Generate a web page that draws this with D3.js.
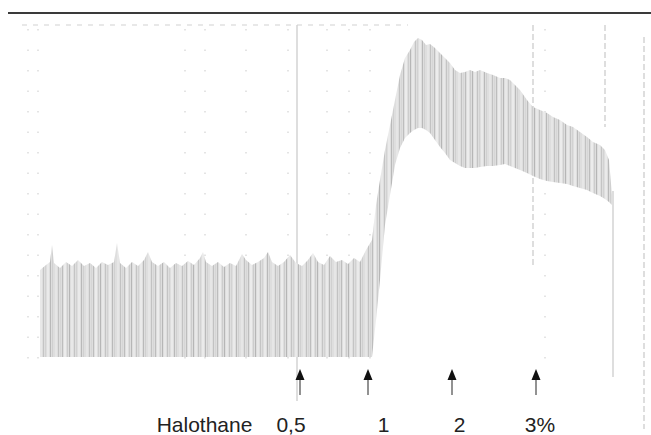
<!DOCTYPE html>
<html>
<head>
<meta charset="utf-8">
<script src="https://cdn.jsdelivr.net/npm/d3@7"></script>
<style>
  html, body { margin: 0; padding: 0; background: #fff; }
  svg { display: block; }
</style>
</head>
<body>
<svg id="chart" width="651" height="435"></svg>
<script>
// recording time (s) and pressure envelope (arbitrary units)
const time = [0, 3, 5, 6, 7, 10, 13, 16, 19, 22, 25, 28, 31, 34, 37, 38.5, 40, 43, 46, 49,
  52, 54, 56, 59, 62, 65, 68, 71, 74, 77, 80, 81.5, 83, 86, 89, 92, 95, 98, 101, 103,
  106, 109, 112, 114, 116, 119, 122, 125, 128, 131, 134, 136.5, 139, 142, 145, 148, 151, 154, 157, 160,
  163, 166, 168, 170, 172.5, 175, 177.5, 180, 182.5, 185, 187, 189, 191, 193, 195, 197.5, 200, 202.5, 205, 207.5,
  210, 212.5, 215, 217.5, 220, 223.5, 226.5, 230, 232.5, 235, 237.5, 240, 243.5, 246.5, 250, 253.5, 256.5, 260, 263.5, 266.5,
  270, 273.5, 276.5, 280, 282.5, 284.5, 286];

const high = [43.5, 46, 47.5, 56, 47, 44.5, 47.5, 45.5, 48.5, 45.5, 47, 44.5, 47.5, 46, 47.5, 57, 47, 44.5, 47.5, 45.5,
  48.5, 52.5, 47.5, 45.5, 47.5, 44.5, 47, 45.5, 48, 46, 49.5, 52.5, 47.5, 45.5, 47.5, 45, 47, 45.5, 51.5, 48.5,
  46, 47.5, 49.5, 52.5, 47.5, 45.5, 47.5, 51, 47, 45.5, 48.5, 52, 47.5, 46, 50.5, 47.5, 48.5, 46.5, 49.5, 47.5,
  53.5, 58.5, 76, 88.5, 103.5, 116, 128.5, 141, 149.5, 153.5, 157.5, 159.5, 158.5, 156, 156.5, 154.5, 152, 149.5, 147, 143.5,
  142, 142.5, 143.5, 142.5, 143.5, 142, 141, 139.5, 139.5, 138.5, 136, 133.5, 128.5, 125, 123.5, 122, 120, 118.5, 116, 115,
  112.5, 110, 107.5, 106, 103.5, 98.5, 81];

const low = [0, 0, 0, 0, 0, 0, 0, 0, 0, 0, 0, 0, 0, 0, 0, 0, 0, 0, 0, 0,
  0, 0, 0, 0, 0, 0, 0, 0, 0, 0, 0, 0, 0, 0, 0, 0, 0, 0, 0, 0,
  0, 0, 0, 0, 0, 0, 0, 0, 0, 0, 0, 0, 0, 0, 0, 0, 0, 0, 0, 0,
  0, 0, 18.5, 38.5, 66, 81, 96, 104.5, 109.5, 112, 113.5, 114.5, 114.5, 113.5, 112, 108.5, 105, 102, 98.5, 97,
  95.5, 94.5, 94.5, 94.5, 95, 95.5, 95.5, 96, 96.5, 95.5, 94.5, 93.5, 92, 90.5, 89, 88, 87.5, 87, 86.5, 85.5,
  84.5, 83.5, 82, 80.5, 79, 77.5, 76];

// halothane steps
const arrowTimes = [130, 164, 206, 248];
const doseLabels = ['0,5', '1', '2', '3%'];
const doseLabelTimes = [125.5, 171.75, 209.75, 250];
const drugName = 'Halothane';
const drugNameTime = 82.25;

// faint paper grid
const gridTimes = [128.5, 246.5, 282.5, 286.5, 302];
const gridTop = [166, 166, 166, 83, 160];
const gridBottom = [-22, 45, 115, -10, -36];
const dotTimes = [-6, -1, 72.5, 82.5, 103, 124, 143.5, 154.5, 165, 252.5];
const frameTop = 172;
const dashRow = 166;

const width = 651, height = 435;
const x = d3.scaleLinear().domain([0, 286]).range([40, 612]);
const y = d3.scaleLinear().domain([0, 160]).range([357, 37]);

const svg = d3.select('#chart');

// striped fill imitating the individual pulse traces
const pat = svg.append('defs').append('pattern')
  .attr('id', 'beats')
  .attr('patternUnits', 'userSpaceOnUse')
  .attr('width', 31).attr('height', 400);
pat.append('rect').attr('width', 31).attr('height', 400).attr('fill', '#dedede');
[[0, 1, '#bdbdbd'], [2, 2, '#ececec'], [5, 1, '#cdcdcd'], [7, 1, '#b6b6b6'], [9, 2, '#e8e8e8'],
 [12, 1, '#c4c4c4'], [14, 1, '#d2d2d2'], [16, 2, '#eaeaea'], [19, 1, '#b9b9b9'], [21, 1, '#d0d0d0'],
 [24, 2, '#e6e6e6'], [27, 1, '#c2c2c2'], [29, 1, '#d6d6d6']].forEach(s => {
  pat.append('rect').attr('x', s[0]).attr('width', s[1]).attr('height', 400).attr('fill', s[2]);
});

// grid
svg.append('line')
  .attr('x1', 8).attr('x2', width)
  .attr('y1', y(frameTop)).attr('y2', y(frameTop))
  .attr('stroke', '#3a3a3a').attr('stroke-width', 2);

svg.append('line')
  .attr('x1', x(-9)).attr('x2', x(184))
  .attr('y1', y(dashRow)).attr('y2', y(dashRow))
  .attr('stroke', '#d2d2d2').attr('stroke-width', 1.2)
  .attr('stroke-dasharray', '5,6');

svg.selectAll('.dots')
  .data(dotTimes)
  .enter().append('line')
  .attr('class', 'dots')
  .attr('x1', d => x(d)).attr('x2', d => x(d))
  .attr('y1', y(164)).attr('y2', y(-5))
  .attr('stroke', '#d6d6d6').attr('stroke-width', 1.3)
  .attr('stroke-dasharray', '1.5,19');

svg.selectAll('.grid')
  .data(gridTimes)
  .enter().append('line')
  .attr('class', 'grid')
  .attr('x1', d => x(d)).attr('x2', d => x(d))
  .attr('y1', (d, i) => y(gridTop[i])).attr('y2', (d, i) => y(gridBottom[i]))
  .attr('stroke', '#d0d0d0').attr('stroke-width', 1.4)
  .attr('stroke-dasharray', (d, i) => i === 0 || i === 3 ? null : '6,3');

// pressure band
const band = time.map((t, i) => ({ t: t, hi: high[i], lo: low[i] }));
const area = d3.area()
  .x(d => x(d.t))
  .y0(d => y(d.lo))
  .y1(d => y(d.hi));

svg.append('path')
  .datum(band)
  .attr('d', area)
  .attr('fill', 'url(#beats)');

// arrows
const arrows = svg.selectAll('.arrow')
  .data(arrowTimes)
  .enter().append('g')
  .attr('class', 'arrow')
  .attr('transform', d => `translate(${x(d)},0)`);
arrows.append('line')
  .attr('y1', 378).attr('y2', 395)
  .attr('stroke', '#777').attr('stroke-width', 1.6);
arrows.append('path')
  .attr('d', 'M0,369 L4.5,380 L-4.5,380 Z')
  .attr('fill', '#111');

// labels
svg.append('text')
  .attr('x', x(drugNameTime)).attr('y', 432)
  .attr('text-anchor', 'middle')
  .attr('font-family', 'Liberation Sans, Arial, sans-serif')
  .attr('font-size', 21).attr('fill', '#222')
  .text(drugName);

svg.selectAll('.dose')
  .data(doseLabels)
  .enter().append('text')
  .attr('class', 'dose')
  .attr('x', (d, i) => x(doseLabelTimes[i])).attr('y', 432)
  .attr('text-anchor', 'middle')
  .attr('font-family', 'Liberation Sans, Arial, sans-serif')
  .attr('font-size', 21).attr('fill', '#222')
  .text(d => d);
</script>
</body>
</html>
